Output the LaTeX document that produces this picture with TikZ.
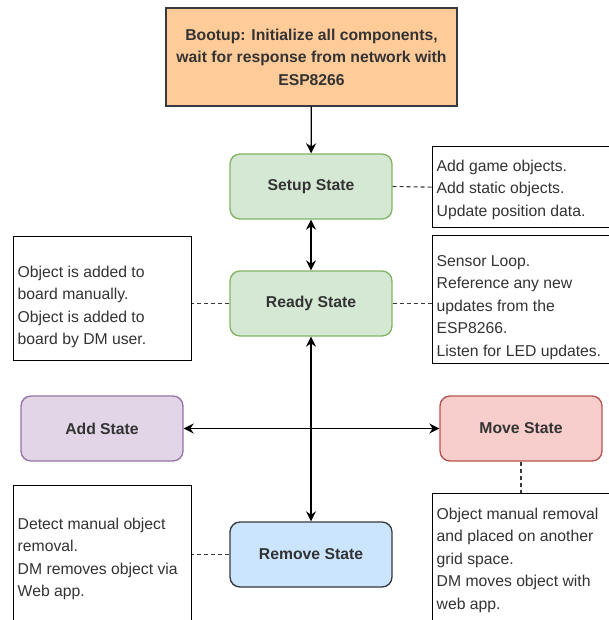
\documentclass[tikz,border=0pt]{standalone}
\usepackage{fontspec}
\setmainfont{Liberation Sans}
\usetikzlibrary{arrows.meta}
\definecolor{bootfill}{HTML}{FFCC99}
\definecolor{greenfill}{HTML}{D5E8D4}
\definecolor{greenline}{HTML}{82B366}
\definecolor{purplefill}{HTML}{E1D5E7}
\definecolor{purpleline}{HTML}{9673A6}
\definecolor{redfill}{HTML}{F8CECC}
\definecolor{redline}{HTML}{B85450}
\definecolor{bluefill}{HTML}{CCE5FF}
\definecolor{darkline}{HTML}{36393D}
\definecolor{txt}{HTML}{333333}
\begin{document}
\begin{tikzpicture}[x=0.75pt, y=-0.75pt,
    every node/.style={font=\fontsize{11.8}{16.9}\selectfont, text=txt},
    state/.style={rounded corners=7.5pt, draw, line width=1pt, minimum width=121.5pt, minimum height=48.75pt, font=\fontsize{11.8}{16.9}\selectfont\bfseries},
    notebox/.style={draw=black, line width=1pt, fill=white, anchor=north west},
    notetext/.style={anchor=west, align=left},
    link/.style={line width=1pt, -{Stealth[length=7.5pt,width=7.5pt]}},
    dlink/.style={line width=1pt, {Stealth[length=7.5pt,width=7.5pt]}-{Stealth[length=7.5pt,width=7.5pt]}},
    dashlink/.style={line width=0.8pt, draw=darkline, dash pattern=on 3pt off 2.25pt}]
        \useasboundingbox (0,0) rectangle (609,620);

        % state boxes
        \node[draw=darkline, fill=bootfill, line width=1pt, minimum width=218.25pt, minimum height=73.5pt, align=center, font=\fontsize{11.8}{16.9}\selectfont\bfseries] (boot) at (311.5,57) {Bootup: Initialize all components,\\ wait for response from network with\\ ESP8266};
        \node[state, draw=greenline, fill=greenfill] (setup) at (311,186.5) {Setup State};
        \node[state, draw=greenline, fill=greenfill] (ready) at (311,303.5) {Ready State};
        \node[state, draw=purpleline, fill=purplefill] (add) at (102,428.5) {Add State};
        \node[state, draw=redline, fill=redfill] (move) at (521,428.5) {Move State};
        \node[state, draw=darkline, fill=bluefill] (remove) at (311,554.5) {Remove State};

        % notes
        \node[notebox, minimum width=135pt, minimum height=60.75pt] (setupnote) at (432,146) {};
        \node[notebox, minimum width=135pt, minimum height=96pt] (readynote) at (432,235) {};
        \node[notebox, minimum width=133.5pt, minimum height=93pt] (addnote) at (13,236) {};
        \node[notebox, minimum width=133.5pt, minimum height=112pt] (removenote) at (13,485) {};
        \node[notebox, minimum width=135pt, minimum height=105pt] (movenote) at (432,493) {};

        \node[notetext] (setuptxt) at (432,189.5) {Add game objects.\\ Add static objects.\\ Update position data.};
        \node[notetext] (readytxt) at (432,307.5) {Sensor Loop.\\ Reference any new\\ updates from the\\ ESP8266.\\ Listen for LED updates.};
        \node[notetext] (addtxt) at (13,307) {Object is added to\\ board manually.\\ Object is added to\\ board by DM user.};
        \node[notetext] (removetxt) at (13,559) {Detect manual object\\ removal.\\ DM removes object via\\ Web app.};
        \node[notetext] (movetxt) at (432,560) {Object manual removal\\ and placed on another\\ grid space.\\ DM moves object with\\ web app.};

        % connectors
        \draw[link] (boot) -- (setup);
        \draw[dlink] (setup) -- (ready);
        \draw[dlink] (ready) -- (remove);
        \draw[dlink] (add) -- (move);

        \draw[dashlink] (setup.east) -- (setupnote.west);
        \draw[dashlink] (ready.east) -- (ready.east -| readynote.west);
        \draw[dashlink] (ready.west) -- (ready.west -| addnote.east);
        \draw[dashlink] (remove.west) -- (remove.west -| removenote.east);
        \draw[dashlink] (move.south) -- (move.south |- movenote.north);
\end{tikzpicture}
\end{document}
